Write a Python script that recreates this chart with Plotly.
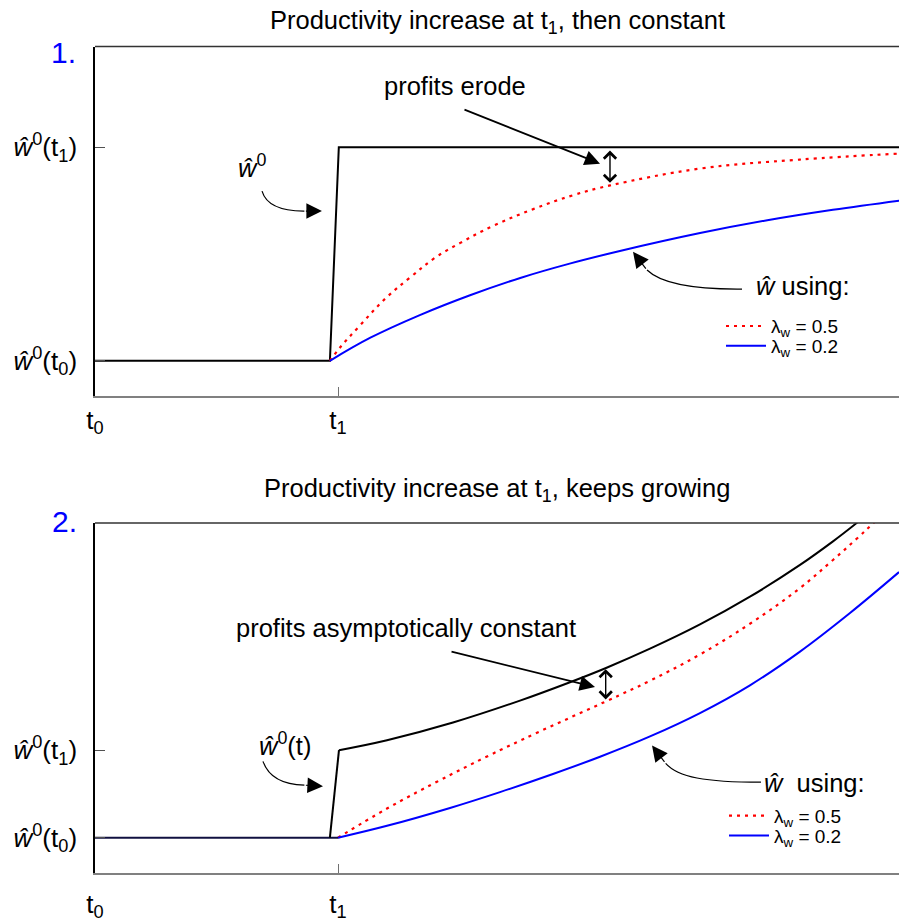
import plotly.graph_objects as go

FONT = "Liberation Sans, Arial, Helvetica, sans-serif"

# ---------------- data ----------------
x_tick_vals = [0.0, 3.0]
x_tick_text = ["t<sub>0</sub>", "t<sub>1</sub>"]
y_tick_vals = [1.0, 2.0]
y_tick_text = ["<i>ŵ</i><sup>0</sup>(t<sub>0</sub>)", "<i>ŵ</i><sup>0</sup>(t<sub>1</sub>)"]

x_range = [0.0, 9.926]
y_range_top = [0.836, 2.471]
y_range_bottom = [0.596, 4.596]

series_labels = ["λ<sub>w</sub> = 0.5", "λ<sub>w</sub> = 0.2"]

# Panel 1: productivity increase at t1, then constant
p1_w0_t = [0.0, 2.90, 3.01, 9.93]
p1_w0 = [1.0, 1.0, 2.0, 2.0]
p1_fast_t = [2.90, 3.02, 3.27, 3.60, 3.89, 4.20, 4.51, 4.91, 5.41, 5.90, 6.36, 7.47, 8.70, 9.93]
p1_fast = [1.0, 1.060, 1.165, 1.297, 1.390, 1.483, 1.552, 1.631, 1.710, 1.775, 1.821, 1.900, 1.942, 1.970]
p1_slow_t = [2.90, 3.40, 4.01, 4.63, 5.25, 5.86, 6.48, 7.47, 8.30, 9.11, 9.93]
p1_slow = [1.0, 1.108, 1.214, 1.307, 1.388, 1.455, 1.514, 1.598, 1.658, 1.707, 1.750]

# Panel 2: productivity increase at t1, keeps growing
p2_flat_t = [0.0, 3.0]
p2_flat = [1.0, 1.0]
p2_jump_t = [2.90, 3.012]
p2_jump = [1.0, 2.000]
p2_w0_t = [3.012, 3.605, 4.420, 5.247, 5.864, 6.309, 6.852, 7.469, 8.086, 8.704, 9.111, 9.407, 9.568]
p2_w0 = [2.000, 2.114, 2.316, 2.566, 2.776, 2.939, 3.159, 3.436, 3.753, 4.116, 4.385, 4.597, 4.719]
p2_fast_t = [3.000, 3.605, 4.222, 4.840, 5.457, 6.309, 6.852, 7.469, 8.086, 8.704, 9.111, 9.407, 9.605, 9.753]
p2_fast = [1.000, 1.333, 1.639, 1.928, 2.199, 2.558, 2.793, 3.093, 3.444, 3.852, 4.173, 4.418, 4.590, 4.719]
p2_slow_t = [3.000, 3.605, 4.383, 5.000, 5.654, 6.235, 6.852, 7.469, 8.086, 8.704, 9.321, 9.926]
p2_slow = [1.000, 1.136, 1.340, 1.521, 1.728, 1.925, 2.157, 2.424, 2.741, 3.126, 3.567, 4.034]

# annotation anchors (data units)
p1_gap_t = 6.358
p1_gap_y = [1.984, 1.826]
p2_gap_t = 6.305
p2_gap_y = [2.925, 2.563]

# ---------------- styles ----------------
RED = "#ff0000"
BLUE = "#0000ff"
BLACK = "#000000"
RED_DASH = "3px,5px"
SM = 1.1
TXT = 25.5

fig = go.Figure()

# panel 1 traces
fig.add_trace(go.Scatter(x=p1_w0_t, y=p1_w0, mode="lines", line=dict(color=BLACK, width=2),
                         showlegend=False, xaxis="x", yaxis="y"))
fig.add_trace(go.Scatter(x=p1_fast_t, y=p1_fast, mode="lines", name=series_labels[0],
                         line=dict(color=RED, width=2.2, dash=RED_DASH, shape="spline", smoothing=SM),
                         legend="legend", xaxis="x", yaxis="y"))
fig.add_trace(go.Scatter(x=p1_slow_t, y=p1_slow, mode="lines", name=series_labels[1],
                         line=dict(color=BLUE, width=2, shape="spline", smoothing=SM),
                         legend="legend2", xaxis="x", yaxis="y"))

# panel 2 traces
fig.add_trace(go.Scatter(x=p2_fast_t, y=p2_fast, mode="lines", name=series_labels[0],
                         line=dict(color=RED, width=2.2, dash=RED_DASH, shape="spline", smoothing=SM),
                         legend="legend3", xaxis="x2", yaxis="y2"))
fig.add_trace(go.Scatter(x=p2_slow_t, y=p2_slow, mode="lines", name=series_labels[1],
                         line=dict(color=BLUE, width=2, shape="spline", smoothing=SM),
                         legend="legend4", xaxis="x2", yaxis="y2"))
fig.add_trace(go.Scatter(x=p2_flat_t, y=p2_flat, mode="lines", line=dict(color="#101040", width=2),
                         showlegend=False, xaxis="x2", yaxis="y2"))
fig.add_trace(go.Scatter(x=p2_jump_t, y=p2_jump, mode="lines", line=dict(color=BLACK, width=2),
                         showlegend=False, xaxis="x2", yaxis="y2"))
fig.add_trace(go.Scatter(x=p2_w0_t, y=p2_w0, mode="lines", line=dict(color=BLACK, width=2, shape="spline", smoothing=SM),
                         showlegend=False, xaxis="x2", yaxis="y2"))

W, H = 899, 922
top_dom = [(H - 399.3) / H, (H - 47) / H]
bot_dom = [(H - 880.7) / H, (H - 527.5) / H]

tickfont = dict(family=FONT, size=26, color=BLACK)


def xaxis(anchor, standoff):
    return dict(domain=[0, 1], anchor=anchor, range=x_range, showgrid=False, zeroline=False,
                showline=True, linecolor="#808080", linewidth=1.5,
                tickmode="array", tickvals=x_tick_vals, ticktext=x_tick_text,
                ticks="inside", ticklen=9, tickcolor="#707070", tickwidth=1,
                tickfont=tickfont, ticklabelstandoff=standoff, fixedrange=True)


def yaxis(anchor, dom, rng):
    return dict(domain=dom, anchor=anchor, range=rng, showgrid=False, zeroline=False,
                showline=True, linecolor=BLACK, linewidth=1.5,
                tickmode="array", tickvals=y_tick_vals, ticktext=y_tick_text,
                ticks="inside", ticklen=10, tickcolor="#505050", tickwidth=1,
                tickfont=tickfont, ticklabelstandoff=11, fixedrange=True)


shapes = []
for xr, yr in [("x", "y"), ("x2", "y2")]:
    shapes.append(dict(type="line", xref=f"{xr} domain", yref=f"{yr} domain", x0=0, x1=1, y0=1, y1=1,
                       line=dict(color="#333333", width=1.5)))

# curved pointer arrows (paths in data coordinates)
curves = [
    ("x", "y", "M 2.062,1.794 Q 2.136,1.700 2.585,1.701"),
    ("x", "y", "M 7.988,1.336 C 7.407,1.334 7.000,1.357 6.815,1.425"),
    ("x2", "y2", "M 2.074,1.872 Q 2.173,1.610 2.585,1.600"),
    ("x2", "y2", "M 8.222,1.634 C 7.531,1.634 7.198,1.691 7.045,1.850"),
]
for xr, yr, p in curves:
    shapes.append(dict(type="path", xref=xr, yref=yr, path=p, line=dict(color=BLACK, width=1.2)))

annotations = []


def text(xr, yr, x, y, s, size=TXT, color=BLACK, xanchor="center"):
    annotations.append(dict(xref=xr, yref=yr, x=x, y=y, text=s, showarrow=False,
                            font=dict(family=FONT, size=size, color=color), xanchor=xanchor, yanchor="middle"))


def arrow(xr, yr, x, y, ax, ay, width=1.5, size=1.5, head=2, both=False):
    d = dict(xref=xr, yref=yr, axref=xr, ayref=yr, x=x, y=y, ax=ax, ay=ay, text="",
             showarrow=True, arrowhead=head, arrowsize=size, arrowwidth=width, arrowcolor=BLACK)
    if both:
        d.update(arrowside="end+start", startarrowhead=head, startarrowsize=size)
    annotations.append(d)


# panel titles and numbers
text("paper", "paper", 0.5, (H - 22) / H, "Productivity increase at t<sub>1</sub>, then constant")
text("paper", "paper", 0.5, (H - 494) / H, "Productivity increase at t<sub>1</sub>, keeps growing")
text("paper", "paper", (63 - 95) / 804, (H - 53) / H, "1.", size=30, color=BLUE)
text("paper", "paper", (64 - 95) / 804, (H - 526) / H, "2.", size=30, color=BLUE)

# panel 1 annotations
text("x", "y", 4.444, 2.285, "profits erode")
arrow("x", "y", 6.235, 1.923, 4.543, 2.179, width=1.8, size=1.7)
arrow("x", "y", p1_gap_t, p1_gap_y[0], p1_gap_t, p1_gap_y[1], width=1.4, size=1.7, head=4, both=True)
text("x", "y", 1.938, 1.910, "<i>ŵ</i><sup>0</sup>")
arrow("x", "y", 2.802, 1.701, 2.585, 1.701, width=1.2, size=2.6)
text("x", "y", 8.741, 1.348, "<i>ŵ</i> using:")
arrow("x", "y", 6.642, 1.510, 6.815, 1.425, width=1.2, size=2.6)

# panel 2 annotations
text("x2", "y2", 3.840, 3.401, "profits asymptotically constant")
arrow("x2", "y2", 6.173, 2.721, 4.383, 3.129, width=1.8, size=1.7)
arrow("x2", "y2", p2_gap_t, p2_gap_y[0], p2_gap_t, p2_gap_y[1], width=1.4, size=1.7, head=4, both=True)
text("x2", "y2", 2.346, 2.076, "<i>ŵ</i><sup>0</sup>(t)")
arrow("x2", "y2", 2.815, 1.589, 2.585, 1.600, width=1.2, size=2.6)
text("x2", "y2", 8.877, 1.623, "<i>ŵ</i>  using:")
arrow("x2", "y2", 6.877, 2.053, 7.045, 1.850, width=1.2, size=2.6)

legend_style = dict(xanchor="left", yanchor="middle", bgcolor="rgba(0,0,0,0)", borderwidth=0,
                    font=dict(family=FONT, size=19, color=BLACK), itemwidth=40, tracegroupgap=0)

fig.update_layout(
    width=W, height=H,
    margin=dict(l=95, r=0, t=0, b=0),
    paper_bgcolor="white", plot_bgcolor="white",
    font=dict(family=FONT, color=BLACK),
    xaxis=xaxis("y", 0), yaxis=yaxis("x", top_dom, y_range_top),
    xaxis2=xaxis("y2", 7), yaxis2=yaxis("x2", bot_dom, y_range_bottom),
    legend=dict(x=(721 - 95) / 804, y=(H - 329) / H, **legend_style),
    legend2=dict(x=(721 - 95) / 804, y=(H - 349) / H, **legend_style),
    legend3=dict(x=(724 - 95) / 804, y=(H - 823) / H, **legend_style),
    legend4=dict(x=(724 - 95) / 804, y=(H - 843) / H, **legend_style),
    shapes=shapes, annotations=annotations,
    showlegend=True,
)

fig.write_html("out.html", config={"displayModeBar": False},
               post_script="document.body.style.margin='0px';document.body.style.padding='0px';")
